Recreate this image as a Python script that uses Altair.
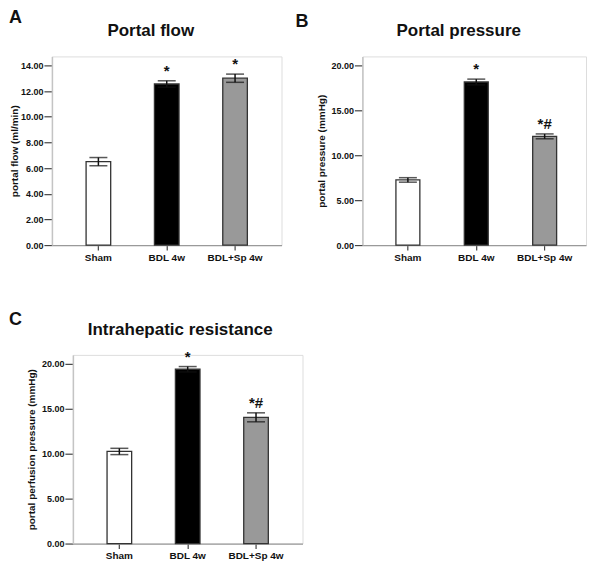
import altair as alt
import pandas as pd

groups = ["Sham", "BDL 4w", "BDL+Sp 4w"]
fills = ["#ffffff", "#000000", "#999999"]

flow_mean = [6.50, 12.55, 13.00]
flow_err = [0.32, 0.25, 0.32]
flow_sig = ["", "*", "*"]

press_mean = [7.25, 18.15, 12.10]
press_err = [0.25, 0.32, 0.27]
press_sig = ["", "*", "*#"]

res_mean = [10.25, 19.40, 14.05]
res_err = [0.35, 0.30, 0.50]
res_sig = ["", "*", "*#"]

flow_ticks = [0, 2, 4, 6, 8, 10, 12, 14]
press_ticks = [0, 5, 10, 15, 20]
res_ticks = [0, 5, 10, 15, 20]

FONT = "Liberation Sans"


def panel(letter, title, ytitle, means, errs, sigs, ymax, ticks, width, height,
          xpad, letter_xy, title_xy, title_pad):
    df = pd.DataFrame({"group": groups, "mean": means, "err": errs,
                       "sig": sigs, "fill": fills})
    df["lo"] = df["mean"] - df["err"]
    df["hi"] = df["mean"] + df["err"]

    xscale = alt.Scale(paddingInner=xpad[0], paddingOuter=xpad[1], align=xpad[2])
    xaxis = alt.Axis(title=None, labelAngle=0, tickSize=5, tickColor="#444444",
                     tickWidth=1.2, domainColor="#9a9a9a", domainWidth=1.2,
                     labelFontSize=10, labelFontWeight="bold", labelPadding=2,
                     labelColor="#111111", labelFont=FONT)
    yscale = alt.Scale(domain=[0, ymax], nice=False, zero=True)
    yaxis = alt.Axis(values=ticks, format=".2f", title=ytitle, grid=False,
                     labelOverlap=False, tickCount=len(ticks),
                     tickSize=8, tickColor="#444444", tickWidth=1.2,
                     domainColor="#c4c4c4", domainWidth=1.5,
                     labelFontSize=9, labelFontWeight="bold", labelPadding=1,
                     labelColor="#111111", labelFont=FONT,
                     titleFontSize=10, titleFontWeight="bold", titleFont=FONT,
                     titleColor="#111111", titlePadding=title_pad)
    X = alt.X("group:N", sort=groups, scale=xscale, axis=xaxis)

    def Y(field):
        return alt.Y(field, type="quantitative", scale=yscale, axis=yaxis,
                     title=ytitle)

    base = alt.Chart(df)
    bars = base.mark_bar(stroke="#333333", strokeWidth=1.3).encode(
        x=X, y=Y("mean"), fill=alt.Fill("fill:N", scale=None))
    rule = base.mark_rule(color="#111111", strokeWidth=1.5).encode(
        x=X, y=Y("lo"), y2="hi:Q")
    cap_hi = base.mark_tick(color="#111111", size=18, thickness=1.5).encode(
        x=X, y=Y("hi"))
    cap_lo = base.mark_tick(color="#111111", size=18, thickness=1.5).encode(
        x=X, y=Y("lo"))
    stars = base.mark_text(fontSize=15, fontWeight="bold", font=FONT,
                           baseline="alphabetic", dy=-5, color="#111111").encode(
        x=X, y=Y("hi"), text="sig:N")

    letter_t = alt.Chart(pd.DataFrame({"t": [letter]})).mark_text(
        fontSize=18, fontWeight="bold", font=FONT, align="left",
        baseline="top", color="#111111").encode(
        text="t:N", x=alt.value(letter_xy[0]), y=alt.value(letter_xy[1]))
    title_t = alt.Chart(pd.DataFrame({"t": [title]})).mark_text(
        fontSize=17, fontWeight="bold", font=FONT, align="center",
        baseline="alphabetic", color="#111111").encode(
        text="t:N", x=alt.value(title_xy[0]), y=alt.value(title_xy[1]))

    return alt.layer(bars, rule, cap_hi, cap_lo, stars, letter_t, title_t).properties(
        width=width, height=height)


A = panel("A", "Portal flow", "portal flow (ml/min)", flow_mean, flow_err,
          flow_sig, 14.7, flow_ticks, 230, 189, (0.64, 0.5, 0.5),
          (-43, -47), (99, -20), 1)
B = panel("B", "Portal pressure", "portal pressure (mmHg)", press_mean,
          press_err, press_sig, 21.0, press_ticks, 224, 189, (0.65, 0.46, 0.533),
          (-67, -43), (96.5, -20), 4)
C = panel("C", "Intrahepatic resistance", "portal perfusion pressure (mmHg)",
          res_mean, res_err, res_sig, 21.0, res_ticks, 230, 189, (0.64, 0.5, 0.5),
          (-64, -44), (107.5, -20), 5)

spacer = alt.Chart(pd.DataFrame({"t": [""]})).mark_text().encode(
    text="t:N").properties(width=21, height=10)

row1 = alt.hconcat(A, B, spacing=81, bounds="flush")
row2 = alt.hconcat(spacer, C, spacing=0, bounds="flush")
chart = alt.vconcat(row1, row2, spacing=47, bounds="full").properties(
    padding={"left": 0, "top": 0, "right": 0, "bottom": 0}
).configure_view(stroke=None).configure(font=FONT)

chart.save("out.html", embed_options={"renderer": "svg", "actions": False})
